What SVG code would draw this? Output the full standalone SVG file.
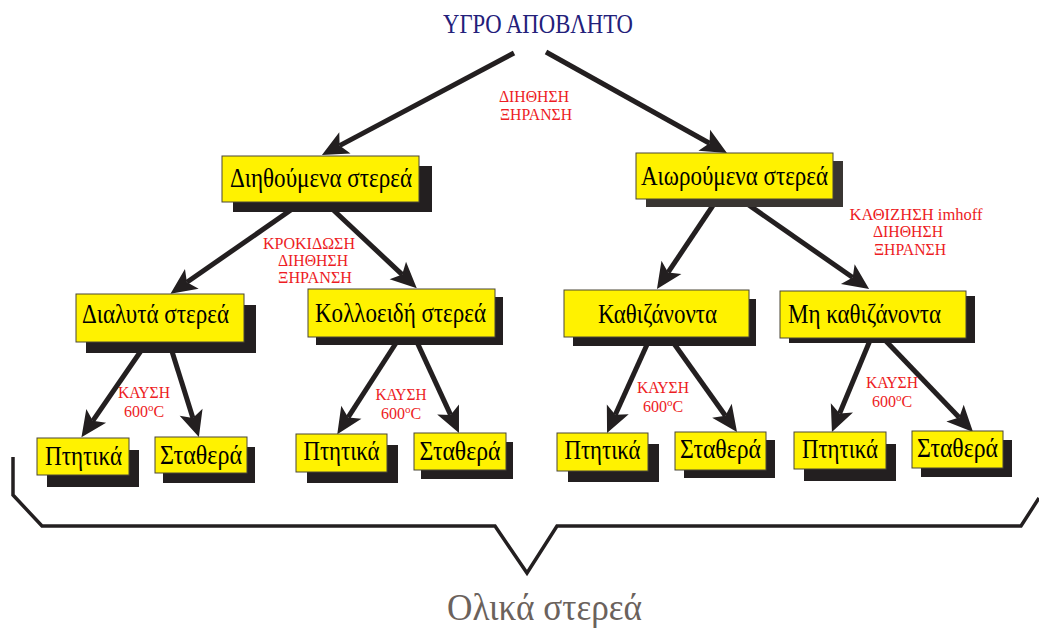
<svg xmlns="http://www.w3.org/2000/svg" width="1039" height="628" viewBox="0 0 1039 628">
<style>
.box{fill:#fff200;stroke:#4a4636;stroke-width:1}
.sh{fill:#231f20}
.sh2{fill:#393532}
.bt{font-family:"Liberation Serif",serif;font-size:28px;fill:#000;text-anchor:middle}
.red{font-family:"Liberation Serif",serif;font-size:16px;fill:#ed1c24;text-anchor:middle}
.con{stroke:#231f20;stroke-width:5;fill:none;marker-end:url(#ah)}
</style>
<defs>
<marker id="ah" markerUnits="userSpaceOnUse" viewBox="-10 -15 40 30" markerWidth="40" markerHeight="30" refX="0" refY="0" orient="auto">
<path d="M20,0 L-6,-12 L0,0 L-6,12 Z" fill="#231f20"/>
</marker>
</defs>
<rect width="1039" height="628" fill="#fff"/>
<text x="538" y="33" font-family="'Liberation Serif',serif" font-size="27" fill="#23207a" text-anchor="middle" textLength="190" lengthAdjust="spacingAndGlyphs">ΥΓΡΟ ΑΠΟΒΛΗΤΟ</text>
<g id="connectors">
<line class="con" x1="514" y1="53" x2="339.6" y2="145.6"/>
<line class="con" x1="546" y1="52" x2="709.5" y2="143.2"/>
<line class="con" x1="298" y1="205" x2="186.9" y2="282.3"/>
<line class="con" x1="328" y1="205" x2="402.2" y2="274.6"/>
<line class="con" x1="722" y1="192" x2="668.1" y2="272.4"/>
<line class="con" x1="733" y1="194" x2="852.7" y2="277.5"/>
<line class="con" x1="145" y1="345" x2="92.8" y2="420.8"/>
<line class="con" x1="170" y1="345" x2="192.9" y2="418"/>
<line class="con" x1="398" y1="340" x2="348.1" y2="417.4"/>
<line class="con" x1="416" y1="340" x2="450.6" y2="414.9"/>
<line class="con" x1="650" y1="338" x2="615.3" y2="414.8"/>
<line class="con" x1="670" y1="338" x2="725.4" y2="415.7"/>
<line class="con" x1="871" y1="338" x2="839.6" y2="413.5"/>
<line class="con" x1="883" y1="338" x2="959.2" y2="417.5"/>
</g>
<g id="lbl-top">
<text class="red" x="534" y="102" textLength="70" lengthAdjust="spacingAndGlyphs">ΔΙΗΘΗΣΗ</text>
<text class="red" x="536" y="120" textLength="72" lengthAdjust="spacingAndGlyphs">ΞΗΡΑΝΣΗ</text>
</g>
<g id="lbl-left">
<text class="red" x="309" y="249" textLength="92" lengthAdjust="spacingAndGlyphs">ΚΡΟΚΙΔΩΣΗ</text>
<text class="red" x="313" y="266" textLength="70" lengthAdjust="spacingAndGlyphs">ΔΙΗΘΗΣΗ</text>
<text class="red" x="315" y="283" textLength="74" lengthAdjust="spacingAndGlyphs">ΞΗΡΑΝΣΗ</text>
</g>
<g id="lbl-right">
<text class="red" x="916" y="220" textLength="133" lengthAdjust="spacingAndGlyphs">ΚΑΘΙΖΗΣΗ  imhoff</text>
<text class="red" x="908" y="237" textLength="70" lengthAdjust="spacingAndGlyphs">ΔΙΗΘΗΣΗ</text>
<text class="red" x="910" y="255" textLength="72" lengthAdjust="spacingAndGlyphs">ΞΗΡΑΝΣΗ</text>
</g>
<g id="lbl-k1">
<text class="red" x="144" y="398" textLength="52" lengthAdjust="spacingAndGlyphs">ΚΑΥΣΗ</text>
<text class="red" x="144" y="417" font-size="16">600<tspan font-size="11" dy="-6">o</tspan><tspan dy="6">C</tspan></text>
</g>
<g id="lbl-k2">
<text class="red" x="401" y="400" textLength="51" lengthAdjust="spacingAndGlyphs">ΚΑΥΣΗ</text>
<text class="red" x="401" y="419" font-size="16">600<tspan font-size="11" dy="-6">o</tspan><tspan dy="6">C</tspan></text>
</g>
<g id="lbl-k3">
<text class="red" x="663" y="393" textLength="52" lengthAdjust="spacingAndGlyphs">ΚΑΥΣΗ</text>
<text class="red" x="663" y="412" font-size="16">600<tspan font-size="11" dy="-6">o</tspan><tspan dy="6">C</tspan></text>
</g>
<g id="lbl-k4">
<text class="red" x="892" y="388" textLength="52" lengthAdjust="spacingAndGlyphs">ΚΑΥΣΗ</text>
<text class="red" x="892" y="407" font-size="16">600<tspan font-size="11" dy="-6">o</tspan><tspan dy="6">C</tspan></text>
</g>
<g id="n-dithoumena">
<rect class="sh" x="233" y="166" width="199" height="46"/>
<rect class="box" x="222" y="156" width="197" height="46"/>
<text class="bt" x="321" y="187" textLength="182" lengthAdjust="spacingAndGlyphs">Διηθούμενα στερεά</text>
</g>
<g id="n-aiwroumena">
<rect class="sh2" x="646" y="161" width="197" height="46"/>
<rect class="box" x="636" y="153" width="197" height="46"/>
<text class="bt" x="734.5" y="185" textLength="187" lengthAdjust="spacingAndGlyphs">Αιωρούμενα στερεά</text>
</g>
<g id="n-dialyta">
<rect class="sh" x="86" y="305" width="170" height="48"/>
<rect class="box" x="76" y="294" width="168" height="48"/>
<text class="bt" x="155.5" y="323" textLength="147" lengthAdjust="spacingAndGlyphs">Διαλυτά στερεά</text>
</g>
<g id="n-kolloeidi">
<rect class="sh" x="316" y="297" width="187" height="48"/>
<rect class="box" x="308" y="289" width="187" height="48"/>
<text class="bt" x="400.5" y="322" textLength="171" lengthAdjust="spacingAndGlyphs">Κολλοειδή στερεά</text>
</g>
<g id="n-kathizanonta">
<rect class="sh" x="573" y="299" width="183" height="47"/>
<rect class="box" x="564" y="290" width="185" height="47"/>
<text class="bt" x="657.5" y="323" textLength="119" lengthAdjust="spacingAndGlyphs">Καθιζάνοντα</text>
</g>
<g id="n-mi-kathizanonta">
<rect class="sh" x="789" y="296" width="186" height="47"/>
<rect class="box" x="780" y="291" width="186" height="47"/>
<text class="bt" x="864.5" y="323" textLength="153" lengthAdjust="spacingAndGlyphs">Μη καθιζάνοντα</text>
</g>
<g id="n-ptitika1">
<rect class="sh" x="47" y="450" width="92" height="37"/>
<rect class="box" x="37" y="438" width="92" height="37"/>
<text class="bt" x="83.5" y="465" textLength="77" lengthAdjust="spacingAndGlyphs">Πτητικά</text>
</g>
<g id="n-stathera1">
<rect class="sh" x="163" y="447" width="92" height="36"/>
<rect class="box" x="155" y="437" width="92" height="36"/>
<text class="bt" x="201" y="464" textLength="82" lengthAdjust="spacingAndGlyphs">Σταθερά</text>
</g>
<g id="n-ptitika2">
<rect class="sh" x="307" y="445" width="91" height="38"/>
<rect class="box" x="296" y="434" width="91" height="38"/>
<text class="bt" x="341.5" y="460" textLength="76" lengthAdjust="spacingAndGlyphs">Πτητικά</text>
</g>
<g id="n-stathera2">
<rect class="sh" x="421" y="442" width="92" height="37"/>
<rect class="box" x="414" y="433" width="92" height="37"/>
<text class="bt" x="460" y="460" textLength="81" lengthAdjust="spacingAndGlyphs">Σταθερά</text>
</g>
<g id="n-ptitika3">
<rect class="sh" x="568" y="444" width="91" height="38"/>
<rect class="box" x="557" y="433" width="91" height="38"/>
<text class="bt" x="602.5" y="459" textLength="76" lengthAdjust="spacingAndGlyphs">Πτητικά</text>
</g>
<g id="n-stathera3">
<rect class="sh" x="684" y="440" width="91" height="38"/>
<rect class="box" x="675" y="432" width="91" height="38"/>
<text class="bt" x="720.5" y="458" textLength="81" lengthAdjust="spacingAndGlyphs">Σταθερά</text>
</g>
<g id="n-ptitika4">
<rect class="sh" x="804" y="444" width="92" height="37"/>
<rect class="box" x="794" y="432" width="92" height="37"/>
<text class="bt" x="840" y="458" textLength="76" lengthAdjust="spacingAndGlyphs">Πτητικά</text>
</g>
<g id="n-stathera4">
<rect class="sh" x="921" y="440" width="91" height="37"/>
<rect class="box" x="912" y="431" width="91" height="37"/>
<text class="bt" x="957.5" y="457" textLength="81" lengthAdjust="spacingAndGlyphs">Σταθερά</text>
</g>
<g id="bracket">
<path d="M13,457 L13,495 L42,526 L495,526 L527,573 L557,526 L1021,526 L1039,498" fill="none" stroke="#231f20" stroke-width="3.5" stroke-linejoin="miter"/>
</g>
<text x="544.5" y="620" font-family="'Liberation Serif',serif" font-size="38" fill="#6b625c" text-anchor="middle" textLength="195" lengthAdjust="spacingAndGlyphs">Ολικά στερεά</text>
</svg>
